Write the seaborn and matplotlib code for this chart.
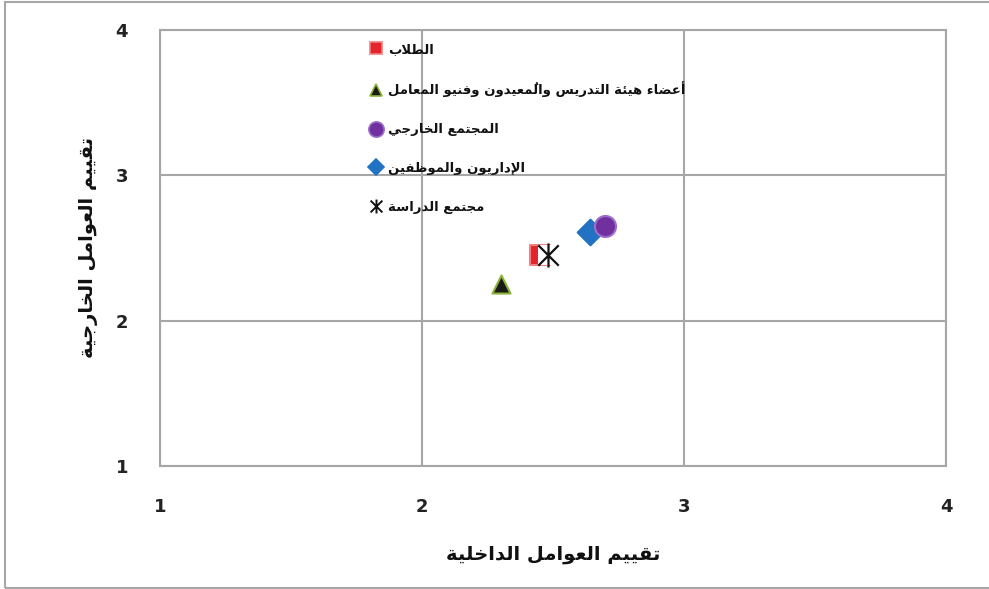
import matplotlib
matplotlib.use("Agg")
import matplotlib.pyplot as plt
import seaborn as sns
import pandas as pd
from matplotlib.lines import Line2D
from matplotlib.patches import Rectangle
from matplotlib.path import Path

# ---------------- data ----------------
groups = ["الطلاب",
          "أعضاء هيئة التدريس والمُعيدون وفنيو المعامل",
          "المجتمع الخارجي",
          "الإداريون والموظفين",
          "مجتمع الدراسة"]
internal_score = [2.45, 2.30, 2.70, 2.64, 2.48]
external_score = [2.45, 2.25, 2.65, 2.61, 2.45]
tick_values = [1, 2, 3, 4]
x_title = "تقييم العوامل الداخلية"
y_title = "تقييم العوامل الخارجية"

# ---------------- minimal Arabic shaping (presentation forms) ----------------
FORMS = {
    '\u0621': ('\uFE80',),
    '\u0622': ('\uFE81', '\uFE82'),
    '\u0623': ('\uFE83', '\uFE84'),
    '\u0624': ('\uFE85', '\uFE86'),
    '\u0625': ('\uFE87', '\uFE88'),
    '\u0626': ('\uFE89', '\uFE8A', '\uFE8B', '\uFE8C'),
    '\u0627': ('\uFE8D', '\uFE8E'),
    '\u0628': ('\uFE8F', '\uFE90', '\uFE91', '\uFE92'),
    '\u0629': ('\uFE93', '\uFE94'),
    '\u062A': ('\uFE95', '\uFE96', '\uFE97', '\uFE98'),
    '\u062B': ('\uFE99', '\uFE9A', '\uFE9B', '\uFE9C'),
    '\u062C': ('\uFE9D', '\uFE9E', '\uFE9F', '\uFEA0'),
    '\u062D': ('\uFEA1', '\uFEA2', '\uFEA3', '\uFEA4'),
    '\u062E': ('\uFEA5', '\uFEA6', '\uFEA7', '\uFEA8'),
    '\u062F': ('\uFEA9', '\uFEAA'),
    '\u0630': ('\uFEAB', '\uFEAC'),
    '\u0631': ('\uFEAD', '\uFEAE'),
    '\u0632': ('\uFEAF', '\uFEB0'),
    '\u0633': ('\uFEB1', '\uFEB2', '\uFEB3', '\uFEB4'),
    '\u0634': ('\uFEB5', '\uFEB6', '\uFEB7', '\uFEB8'),
    '\u0635': ('\uFEB9', '\uFEBA', '\uFEBB', '\uFEBC'),
    '\u0636': ('\uFEBD', '\uFEBE', '\uFEBF', '\uFEC0'),
    '\u0637': ('\uFEC1', '\uFEC2', '\uFEC3', '\uFEC4'),
    '\u0638': ('\uFEC5', '\uFEC6', '\uFEC7', '\uFEC8'),
    '\u0639': ('\uFEC9', '\uFECA', '\uFECB', '\uFECC'),
    '\u063A': ('\uFECD', '\uFECE', '\uFECF', '\uFED0'),
    '\u0641': ('\uFED1', '\uFED2', '\uFED3', '\uFED4'),
    '\u0642': ('\uFED5', '\uFED6', '\uFED7', '\uFED8'),
    '\u0643': ('\uFED9', '\uFEDA', '\uFEDB', '\uFEDC'),
    '\u0644': ('\uFEDD', '\uFEDE', '\uFEDF', '\uFEE0'),
    '\u0645': ('\uFEE1', '\uFEE2', '\uFEE3', '\uFEE4'),
    '\u0646': ('\uFEE5', '\uFEE6', '\uFEE7', '\uFEE8'),
    '\u0647': ('\uFEE9', '\uFEEA', '\uFEEB', '\uFEEC'),
    '\u0648': ('\uFEED', '\uFEEE'),
    '\u0649': ('\uFEEF', '\uFEF0'),
    '\u064A': ('\uFEF1', '\uFEF2', '\uFEF3', '\uFEF4'),
}
LAM_ALEF = {'\u0622': ('\uFEF5', '\uFEF6'), '\u0623': ('\uFEF7', '\uFEF8'),
            '\u0625': ('\uFEF9', '\uFEFA'), '\u0627': ('\uFEFB', '\uFEFC')}


def is_mark(c):
    return '\u064B' <= c <= '\u0652'


def shape(text):
    clusters = []
    for c in text:
        if is_mark(c) and clusters:
            clusters[-1][1].append(c)
        else:
            clusters.append([c, []])
    merged = []
    i = 0
    while i < len(clusters):
        b, m = clusters[i]
        if b == '\u0644' and i + 1 < len(clusters) and clusters[i + 1][0] in LAM_ALEF:
            merged.append(['LA' + clusters[i + 1][0], m + clusters[i + 1][1]])
            i += 2
        else:
            merged.append([b, m])
            i += 1

    def joins_next(b):
        if b.startswith('LA'):
            return False
        return b in FORMS and len(FORMS[b]) == 4

    def joins_prev(b):
        if b.startswith('LA'):
            return True
        return b in FORMS and len(FORMS[b]) >= 2

    out = []
    n = len(merged)
    for i, (b, m) in enumerate(merged):
        prev_c = i > 0 and joins_next(merged[i - 1][0]) and joins_prev(b)
        next_c = i + 1 < n and joins_next(b) and joins_prev(merged[i + 1][0])
        if b.startswith('LA'):
            g = LAM_ALEF[b[2]][1 if prev_c else 0]
        elif b in FORMS:
            f = FORMS[b]
            if len(f) == 1:
                g = f[0]
            elif len(f) == 2:
                g = f[1] if prev_c else f[0]
            else:
                if prev_c and next_c:
                    g = f[3]
                elif prev_c:
                    g = f[1]
                elif next_c:
                    g = f[2]
                else:
                    g = f[0]
        else:
            g = b
        out.append(g + ''.join(m))
    return ''.join(reversed(out))


# asterisk marker: vertical bar + X
AST = Path([(0, -1), (0, 1), (-0.85, -0.85), (0.85, 0.85), (-0.85, 0.85), (0.85, -0.85)],
           [Path.MOVETO, Path.LINETO, Path.MOVETO, Path.LINETO, Path.MOVETO, Path.LINETO])

# ---------------- styling ----------------
sns.set_style("white")
plt.rcParams['font.family'] = ['DejaVu Sans']

colors = ["#E3242B", "#1A1A1A", "#7030A0", "#2272C3", "#111111"]
edges = ["#F08080", "#8DB33A", "#9D6FC8", "#2272C3", "#111111"]
markers = ["s", "^", "o", "D", AST]
sizes = [200, 170, 230, 170, 300]
legend_ms = [9, 9, 11, 8, 10]
zorders = [3, 3, 5, 4, 7]

df = pd.DataFrame({"group": groups, "x": internal_score, "y": external_score})

fig = plt.figure(figsize=(9.89, 5.89), dpi=100)
ax = fig.add_axes([160 / 989, 1 - 466 / 589, 786 / 989, 436 / 589])

for i, g in enumerate(groups):
    sub = df[df["group"] == g]
    if markers[i] is AST:
        # white backing under the asterisk (as in the original chart)
        sns.scatterplot(data=sub, x="x", y="y", ax=ax, marker="s", s=sizes[i] * 0.7,
                        color="white", edgecolor="none", linewidth=0, zorder=6, legend=False)
        sns.scatterplot(data=sub, x="x", y="y", ax=ax, marker=AST, s=sizes[i],
                        color=colors[i], edgecolor=colors[i], linewidth=1.6,
                        zorder=zorders[i], legend=False)
    else:
        sns.scatterplot(data=sub, x="x", y="y", ax=ax, marker=markers[i], s=sizes[i],
                        color=colors[i], edgecolor=edges[i], linewidth=1.5,
                        zorder=zorders[i], legend=False)

ax.set_xlim(1, 4)
ax.set_ylim(1, 4)
ax.set_xticks(tick_values)
ax.set_yticks(tick_values)
ax.set_xticklabels([str(v) for v in tick_values], fontsize=13, fontweight="bold", color="#222222")
ax.set_yticklabels([str(v) for v in tick_values], fontsize=13, fontweight="bold", color="#222222")
ax.tick_params(axis="both", length=0)
ax.tick_params(axis="x", pad=23)
ax.tick_params(axis="y", pad=23)
ax.grid(True, color="#A6A6A6", linewidth=1.5)
ax.set_axisbelow(True)
for sp in ax.spines.values():
    sp.set_color("#A6A6A6")
    sp.set_linewidth(1.5)

ax.set_xlabel(shape(x_title), fontsize=14, fontweight="bold", color="#111111", va="center")
ax.set_ylabel(shape(y_title), fontsize=14, fontweight="bold", color="#111111", va="center")
ax.xaxis.set_label_coords(0.5, (466 - 555) / 436)
ax.yaxis.set_label_coords((88 - 160) / 786, 0.5)

handles = []
for i, g in enumerate(groups):
    if markers[i] is AST:
        h = Line2D([], [], linestyle="none", marker=AST, markersize=legend_ms[i],
                   color=colors[i], markeredgewidth=1.4)
    else:
        h = Line2D([], [], linestyle="none", marker=markers[i], markersize=legend_ms[i],
                   markerfacecolor=colors[i], markeredgecolor=edges[i], markeredgewidth=1.2)
    handles.append(h)
leg = ax.legend(handles, [shape(g) for g in groups], loc="upper left",
                bbox_to_anchor=(362 / 989, 1 - 36 / 589), bbox_transform=fig.transFigure,
                frameon=False, prop={"size": 9.5, "weight": "bold"},
                labelspacing=1.96, handletextpad=0.35, handlelength=1.1, borderpad=0)
for t in leg.get_texts():
    t.set_color("#111111")

# figure border
fig.patches.append(Rectangle((5 / 989, 1 / 589), 1.2, 1 - 2.5 / 589, transform=fig.transFigure,
                             fill=False, edgecolor="#A6A6A6", linewidth=1.5, zorder=0))

fig.savefig("out.png", dpi=100)
